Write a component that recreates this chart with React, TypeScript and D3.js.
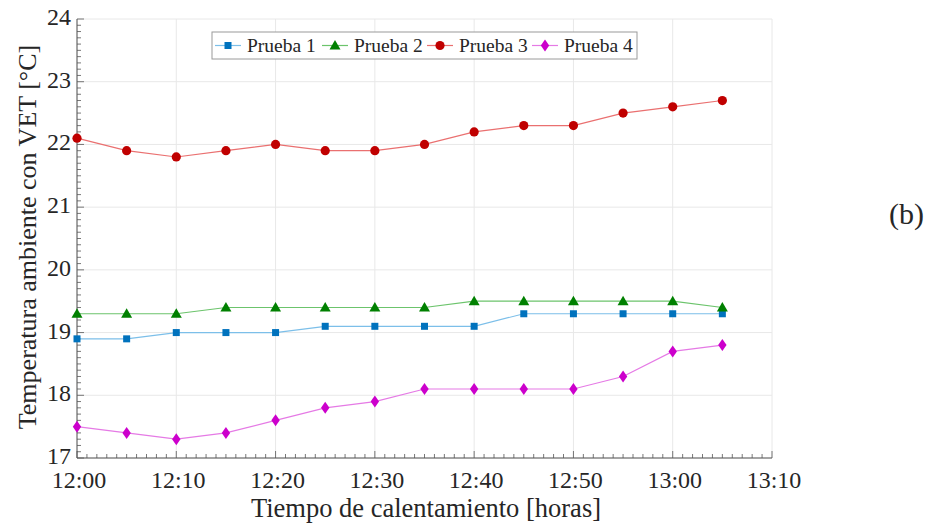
import React from "react";
import * as d3 from "d3";

// Sample times in minutes after 12:00
const minutes = [0, 5, 10, 15, 20, 25, 30, 35, 40, 45, 50, 55, 60, 65];
const prueba1 = [18.9, 18.9, 19.0, 19.0, 19.0, 19.1, 19.1, 19.1, 19.1, 19.3, 19.3, 19.3, 19.3, 19.3];
const prueba2 = [19.3, 19.3, 19.3, 19.4, 19.4, 19.4, 19.4, 19.4, 19.5, 19.5, 19.5, 19.5, 19.5, 19.4];
const prueba3 = [22.1, 21.9, 21.8, 21.9, 22.0, 21.9, 21.9, 22.0, 22.2, 22.3, 22.3, 22.5, 22.6, 22.7];
const prueba4 = [17.5, 17.4, 17.3, 17.4, 17.6, 17.8, 17.9, 18.1, 18.1, 18.1, 18.1, 18.3, 18.7, 18.8];
const seriesNames = ["Prueba 1", "Prueba 2", "Prueba 3", "Prueba 4"];
const xTickLabels = ["12:00", "12:10", "12:20", "12:30", "12:40", "12:50", "13:00", "13:10"];
const yTicks = [17, 18, 19, 20, 21, 22, 23, 24];

const styles = [
  { line: "#7cbfe9", marker: "#0072bd", shape: "square" },
  { line: "#6cc46c", marker: "#008000", shape: "triangle" },
  { line: "#ea7070", marker: "#c00000", shape: "circle" },
  { line: "#e57ae5", marker: "#cc00cc", shape: "diamond" },
];

const FONT = "'Liberation Serif', 'Times New Roman', serif";

function Marker({ shape, x, y, color }: { shape: string; x: number; y: number; color: string }) {
  if (shape === "square") return <rect x={x - 3.5} y={y - 3.5} width={7} height={7} fill={color} />;
  if (shape === "triangle")
    return <path d={`M${x},${y - 5.5}L${x + 5.5},${y + 4}L${x - 5.5},${y + 4}Z`} fill={color} />;
  if (shape === "circle") return <circle cx={x} cy={y} r={4.6} fill={color} />;
  return <path d={`M${x},${y - 6}L${x + 4.2},${y}L${x},${y + 6}L${x - 4.2},${y}Z`} fill={color} />;
}

export default function App() {
  const left = 77, right = 772, top = 19, bottom = 458;
  const x = d3.scaleLinear().domain([0, 70]).range([left, right]);
  const y = d3.scaleLinear().domain([17, 24]).range([bottom, top]);
  const data = [prueba1, prueba2, prueba3, prueba4];
  const line = d3
    .line<number>()
    .x((_, i) => x(minutes[i]))
    .y((d) => y(d));

  const xMajor = d3.range(0, 71, 10);
  const xMinor = d3.range(0, 71, 1).filter((m) => m % 10 !== 0);
  const yMinor = d3.range(170, 241, 1).filter((v) => v % 10 !== 0).map((v) => v / 10);

  const legendX = 212, legendY = 32, legendH = 27, legendW = 425;
  const entryX = [3, 110, 215, 320];

  return (
    <svg width={932} height={527} style={{ position: "absolute", left: 0, top: 0, background: "#fff" }}>
      {/* grid */}
      {xMajor.map((m) => (
        <line key={"gx" + m} x1={x(m)} x2={x(m)} y1={top} y2={bottom} stroke="#e8e8e8" strokeWidth={1} />
      ))}
      {yTicks.map((v) => (
        <line key={"gy" + v} x1={left} x2={right} y1={y(v)} y2={y(v)} stroke="#e8e8e8" strokeWidth={1} />
      ))}
      {/* minor ticks */}
      {xMinor.map((m) => (
        <line key={"mx" + m} x1={x(m)} x2={x(m)} y1={bottom} y2={bottom - 4} stroke="#555" strokeWidth={0.8} />
      ))}
      {xMajor.map((m) => (
        <line key={"Mx" + m} x1={x(m)} x2={x(m)} y1={bottom} y2={bottom - 7} stroke="#555" strokeWidth={0.8} />
      ))}
      {yMinor.map((v) => (
        <line key={"my" + v} x1={left} x2={left + 4} y1={y(v)} y2={y(v)} stroke="#555" strokeWidth={0.8} />
      ))}
      {yTicks.map((v) => (
        <line key={"My" + v} x1={left} x2={left + 7} y1={y(v)} y2={y(v)} stroke="#555" strokeWidth={0.8} />
      ))}
      {/* axes */}
      <line x1={left} x2={left} y1={top} y2={bottom} stroke="#555" strokeWidth={1} />
      <line x1={left} x2={right} y1={bottom} y2={bottom} stroke="#555" strokeWidth={1} />

      {/* tick labels */}
      {xMajor.map((m, i) => (
        <text key={"tx" + m} x={x(m) + 2} y={488} textAnchor="middle" fontFamily={FONT} fontSize={24} fill="#262626">
          {xTickLabels[i]}
        </text>
      ))}
      {yTicks.map((v) => (
        <text key={"ty" + v} x={left - 6} y={y(v) + 6} textAnchor="end" fontFamily={FONT} fontSize={24} fill="#262626">
          {v}
        </text>
      ))}

      {/* axis titles */}
      <text x={426} y={517} textAnchor="middle" fontFamily={FONT} fontSize={26.5} fill="#262626">
        Tiempo de calentamiento [horas]
      </text>
      <text
        transform={`translate(36, 237) rotate(-90)`}
        textAnchor="middle"
        fontFamily={FONT}
        fontSize={26}
        fill="#262626"
      >
        Temperatura ambiente con VET [°C]
      </text>

      {/* series */}
      {data.map((vals, s) => (
        <g key={"s" + s}>
          <path d={line(vals) || ""} fill="none" stroke={styles[s].line} strokeWidth={1.2} />
          {vals.map((v, i) => (
            <Marker key={i} shape={styles[s].shape} x={x(minutes[i])} y={y(v)} color={styles[s].marker} />
          ))}
        </g>
      ))}

      {/* legend */}
      <rect x={legendX} y={legendY} width={legendW} height={legendH} fill="#fff" stroke="#9a9a9a" strokeWidth={1} />
      {seriesNames.map((name, s) => {
        const ex = legendX + entryX[s];
        const cy = legendY + legendH / 2;
        return (
          <g key={"lg" + s}>
            <line x1={ex} x2={ex + 26} y1={cy} y2={cy} stroke={styles[s].line} strokeWidth={1.2} />
            <Marker shape={styles[s].shape} x={ex + 13} y={cy} color={styles[s].marker} />
            <text x={ex + 32} y={cy + 6.5} fontFamily={FONT} fontSize={19.5} fill="#262626">
              {name}
            </text>
          </g>
        );
      })}

      <text x={924} y={224} textAnchor="end" fontFamily={FONT} fontSize={30} fill="#262626">
        (b)
      </text>
    </svg>
  );
}
